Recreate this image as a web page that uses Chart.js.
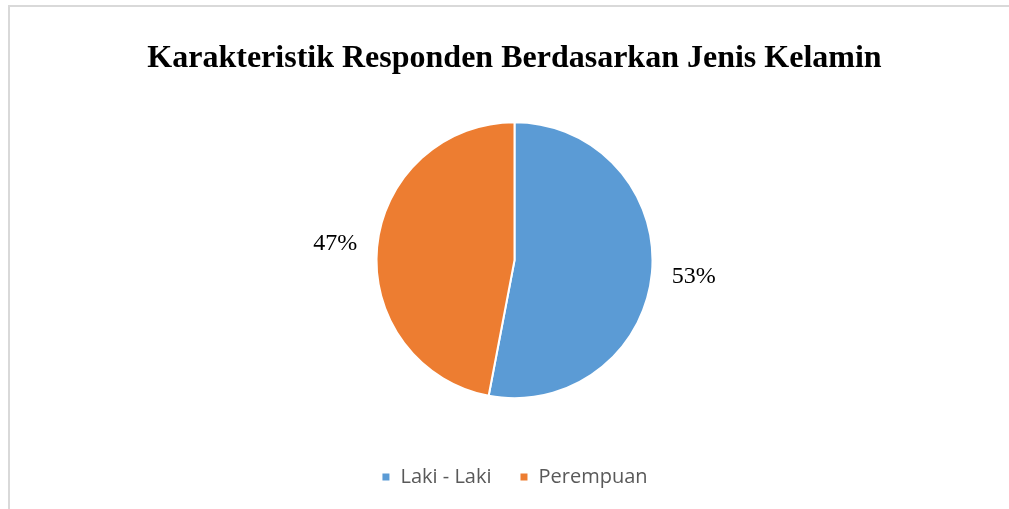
<!DOCTYPE html>
<html>
<head>
<meta charset="utf-8">
<script src="https://cdn.jsdelivr.net/npm/chart.js@4"></script>
<style>
  html, body { margin: 0; padding: 0; background: #fff; overflow: hidden; }
  #frame { position: absolute; left: 8px; top: 5px; width: 1020px; height: 530px; border: 2px solid #d9d9d9; box-sizing: border-box; }
  #wrap { position: absolute; left: 0; top: 0; width: 1009px; height: 509px; }
</style>
</head>
<body>
<div id="frame"></div>
<div id="wrap"><canvas id="grafico" width="1009" height="509"></canvas></div>
<script>
// datos del grafico
const judul = 'Karakteristik Responden Berdasarkan Jenis Kelamin';
const kategori = ['Laki - Laki', 'Perempuan'];
const persen = [53, 47];
const warna = ['#5b9bd5', '#ed7d31'];

// etiquetas fuera del pastel
const labelLuar = {
  id: 'labelLuar',
  afterDatasetsDraw(chart) {
    const ctx = chart.ctx;
    const meta = chart.getDatasetMeta(0);
    ctx.save();
    ctx.font = '24px "Liberation Serif", "Times New Roman", serif';
    ctx.fillStyle = '#000';
    ctx.textAlign = 'center';
    ctx.textBaseline = 'middle';
    meta.data.forEach((arc, i) => {
      const p = arc.getProps(['x', 'y', 'startAngle', 'endAngle', 'outerRadius'], true);
      const mid = (p.startAngle + p.endAngle) / 2;
      const r = p.outerRadius + 42;
      ctx.fillText(persen[i] + '%', p.x + Math.cos(mid) * r, p.y + Math.sin(mid) * r);
    });
    ctx.restore();
  }
};

const ctx = document.getElementById('grafico');
const chart1 = new Chart(ctx, {
  type: 'pie',
  data: {
    labels: kategori,
    datasets: [{
      data: persen,
      backgroundColor: warna,
      borderColor: '#fff',
      borderWidth: 2,
      radius: 138
    }]
  },
  options: {
    responsive: false,
    animation: false,
    devicePixelRatio: 1,
    layout: { padding: { left: 20, right: 0, top: 0, bottom: 12 } },
    plugins: {
      title: {
        display: true,
        text: judul,
        color: '#000',
        font: { family: '"Liberation Serif", "Times New Roman", serif', size: 32, weight: 'bold' },
        padding: { top: 40, bottom: 3 }
      },
      legend: {
        position: 'bottom',
        labels: {
          boxWidth: 9,
          boxHeight: 9,
          padding: 28,
          color: '#595959',
          font: { family: '"Open Sans", sans-serif', size: 20 }
        }
      },
      tooltip: { enabled: false }
    }
  },
  plugins: [labelLuar]
});
</script>
</body>
</html>
